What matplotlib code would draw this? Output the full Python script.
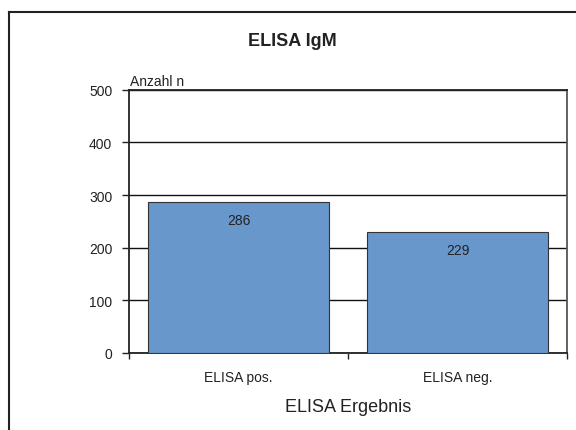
import matplotlib
matplotlib.use("Agg")
import matplotlib.pyplot as plt
from matplotlib.lines import Line2D
import numpy as np

plt.rcParams['font.family'] = ['Liberation Sans', 'DejaVu Sans']

categories = ["ELISA pos.", "ELISA neg."]
counts = [286, 229]
yticks = [0, 100, 200, 300, 400, 500]

W, H = 576, 431
fig = plt.figure(figsize=(W / 100, H / 100), dpi=100)
fig.patch.set_facecolor('white')

# outer frame (left and top edges)
frame_kw = dict(color='#222222', linewidth=1.5, transform=fig.transFigure)
fig.add_artist(Line2D([9 / W, 9 / W], [0, 1 - 13 / H], **frame_kw))
fig.add_artist(Line2D([9 / W, 1.0], [1 - 13 / H, 1 - 13 / H], **frame_kw))

left, right, top, bottom = 129, 567, 90.7, 354
ax = fig.add_axes([left / W, 1 - bottom / H, (right - left) / W, (bottom - top) / H])

x = np.arange(len(categories))
ax.bar(x, counts, width=0.83, color='#6897CB', edgecolor='#333333', linewidth=0.8, zorder=3)
ax.set_xlim(-0.5, len(categories) - 0.5)
ax.set_ylim(0, 500)

for xi, v in zip(x, counts):
    ax.annotate(str(v), (xi, v), xytext=(0, -12.5), textcoords='offset points',
                ha='center', va='center', fontsize=10, color='#222222', zorder=4)

ax.set_yticks(yticks)
ax.tick_params(axis='y', direction='out', length=5, width=1, pad=7, labelsize=10,
               colors='#222222')
ax.yaxis.grid(True, color='#111111', linewidth=1, zorder=0)

ax.set_xticks(x)
ax.set_xticklabels(categories)
ax.set_xticks(np.arange(-0.5, len(categories)), minor=True)
ax.tick_params(axis='x', which='major', length=0, pad=12, labelsize=10, colors='#222222')
ax.tick_params(axis='x', which='minor', direction='out', length=4, width=1, color='#222222')

for s in ['left', 'bottom', 'top']:
    ax.spines[s].set_color('#222222')
    ax.spines[s].set_linewidth(1.3)
ax.spines['right'].set_color('#555555')
ax.spines['right'].set_linewidth(1.3)

fig.text(292 / W, 1 - 42 / H, "ELISA IgM", ha='center', va='center',
         fontsize=13, fontweight='bold', color='#222222')
fig.text(130 / W, 1 - 86 / H, "Anzahl n", ha='left', va='baseline',
         fontsize=10, color='#222222')
fig.text(348 / W, 1 - 408 / H, "ELISA Ergebnis", ha='center', va='center',
         fontsize=13, color='#222222')

fig.savefig("out.png", dpi=100)
